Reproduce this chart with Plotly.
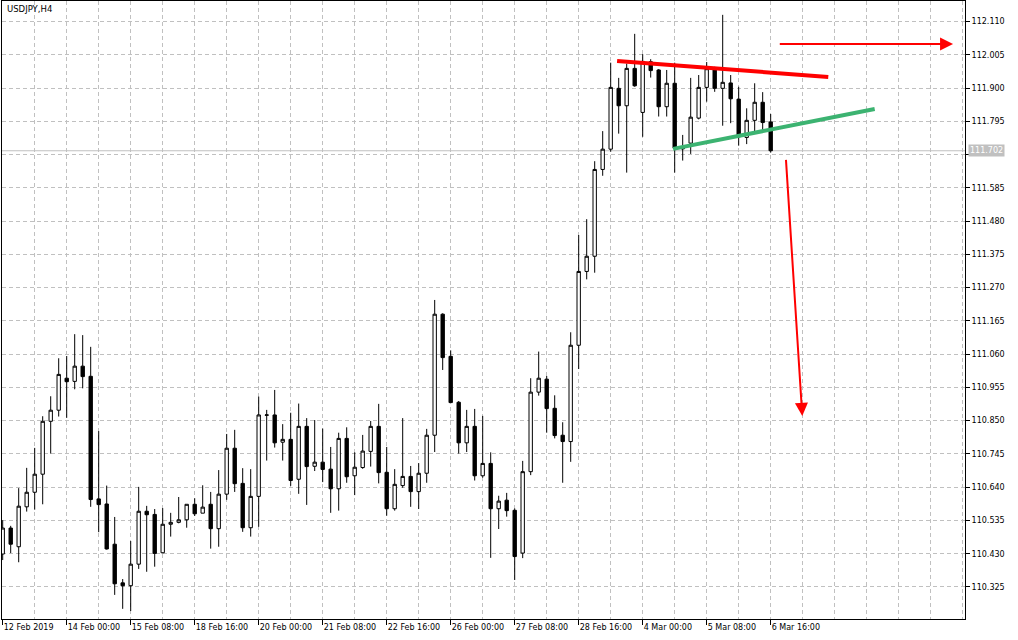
import plotly.graph_objects as go

# ---------------- data (USDJPY, H4 bars) ----------------
opens = [110.429, 110.511, 110.452, 110.578, 110.624, 110.681, 110.848, 110.883, 110.984, 110.974,
         111.022, 110.990, 110.603, 110.587, 110.460, 110.338, 110.329, 110.397, 110.564, 110.554,
         110.433, 110.523, 110.529, 110.537, 110.586, 110.558, 110.586, 110.509, 110.618, 110.763,
         110.652, 110.512, 110.611, 110.867, 110.868, 110.782, 110.791, 110.665, 110.832, 110.706,
         110.719, 110.697, 110.635, 110.794, 110.676, 110.702, 110.753, 110.832, 110.687, 110.572,
         110.645, 110.674, 110.626, 110.684, 110.804, 111.186, 111.053, 110.908, 110.780, 110.832,
         110.676, 110.715, 110.572, 110.599, 110.567, 110.432, 110.689, 110.940, 110.981, 110.889,
         110.804, 110.784, 111.088, 111.321, 111.369, 111.643, 111.707, 111.899, 111.844, 111.962,
         111.823, 111.983, 111.957, 111.841, 111.915, 111.708, 111.726, 111.805, 111.902, 111.961,
         111.899, 111.916, 111.865, 111.744, 111.798, 111.855, 111.793]
highs = [110.536, 110.518, 110.637, 110.701, 110.764, 110.864, 110.927, 111.047, 111.054, 111.123,
         111.120, 111.083, 110.817, 110.645, 110.546, 110.350, 110.470, 110.641, 110.581, 110.571,
         110.574, 110.559, 110.609, 110.586, 110.605, 110.646, 110.625, 110.694, 110.808, 110.821,
         110.700, 110.697, 110.926, 110.884, 110.947, 110.839, 110.875, 110.904, 110.858, 110.852,
         110.825, 110.767, 110.812, 110.829, 110.750, 110.805, 110.849, 110.903, 110.767, 110.697,
         110.858, 110.707, 110.716, 110.824, 111.231, 111.189, 111.072, 110.912, 110.884, 110.887,
         110.865, 110.750, 110.613, 110.622, 110.573, 110.723, 110.984, 111.068, 110.991, 110.930,
         110.845, 111.129, 111.436, 111.486, 111.669, 111.764, 111.980, 111.932, 111.977, 112.071,
         112.007, 111.991, 111.960, 111.957, 111.980, 111.752, 111.932, 111.941, 111.982, 111.967,
         112.131, 111.941, 111.904, 111.836, 111.915, 111.887, 111.818]
lows = [110.410, 110.432, 110.403, 110.563, 110.569, 110.586, 110.746, 110.863, 110.859, 110.949,
        110.952, 110.578, 110.498, 110.443, 110.300, 110.256, 110.249, 110.382, 110.373, 110.389,
        110.431, 110.484, 110.526, 110.512, 110.549, 110.558, 110.446, 110.452, 110.600, 110.625,
        110.499, 110.484, 110.515, 110.724, 110.765, 110.724, 110.644, 110.619, 110.584, 110.691,
        110.656, 110.559, 110.566, 110.654, 110.615, 110.698, 110.705, 110.652, 110.550, 110.566,
        110.638, 110.578, 110.571, 110.654, 110.751, 111.010, 110.907, 110.746, 110.751, 110.661,
        110.670, 110.417, 110.508, 110.547, 110.347, 110.416, 110.678, 110.929, 110.812, 110.794,
        110.654, 110.720, 111.013, 111.296, 111.317, 111.623, 111.699, 111.756, 111.633, 111.904,
        111.746, 111.933, 111.810, 111.810, 111.633, 111.671, 111.692, 111.801, 111.857, 111.888,
        111.781, 111.789, 111.718, 111.723, 111.764, 111.764, 111.696]
closes = [110.511, 110.460, 110.580, 110.624, 110.681, 110.848, 110.883, 110.996, 110.973, 111.022,
          110.989, 110.601, 110.585, 110.445, 110.335, 110.329, 110.397, 110.564, 110.553, 110.431,
          110.523, 110.529, 110.537, 110.586, 110.556, 110.577, 110.509, 110.618, 110.763, 110.651,
          110.512, 110.611, 110.868, 110.868, 110.780, 110.791, 110.661, 110.832, 110.705, 110.719,
          110.696, 110.635, 110.794, 110.673, 110.703, 110.754, 110.832, 110.686, 110.572, 110.649,
          110.674, 110.626, 110.684, 110.804, 111.186, 111.049, 110.907, 110.780, 110.832, 110.676,
          110.715, 110.572, 110.596, 110.566, 110.421, 110.689, 110.940, 110.984, 110.888, 110.803,
          110.784, 111.088, 111.321, 111.369, 111.643, 111.707, 111.902, 111.844, 111.962, 111.907,
          111.984, 111.955, 111.841, 111.915, 111.710, 111.712, 111.808, 111.902, 111.961, 111.899,
          111.918, 111.866, 111.746, 111.798, 111.855, 111.791, 111.702]

x_tick_bars = [0, 8, 16, 24, 32, 40, 48, 56, 64, 72, 80, 88, 96]
x_tick_labels = ["12 Feb 2019", "14 Feb 00:00", "15 Feb 08:00", "18 Feb 16:00", "20 Feb 00:00",
                 "21 Feb 08:00", "22 Feb 16:00", "26 Feb 00:00", "27 Feb 08:00", "28 Feb 16:00",
                 "4 Mar 00:00", "5 Mar 08:00", "6 Mar 16:00"]
y_ticks = [110.325, 110.430, 110.535, 110.640, 110.745, 110.850, 110.955, 111.060, 111.165,
           111.270, 111.375, 111.480, 111.585, 111.690, 111.795, 111.900, 112.005, 112.110]
last_price = 111.702
symbol_title = "USDJPY,H4"

# drawn objects (bar index, price)
red_line = [(76.8, 111.985), (103.2, 111.935)]
green_line = [(83.8, 111.708), (109.0, 111.834)]
arrow_right = [(96.95, 112.039), (118.8, 112.039)]
arrow_down = [(97.9, 111.678), (99.95, 110.865)]

FONT = "DejaVu Sans"
GRID = "#c0c0c0"

# the bid-price label covers the tick label nearest to it (as in the terminal)
y_tick_text = ["" if abs(v - last_price) < 0.03 else f"{v:.3f}" for v in y_ticks]

fig = go.Figure(go.Candlestick(
    x=list(range(len(opens))), open=opens, high=highs, low=lows, close=closes,
    increasing=dict(line=dict(color="black", width=1), fillcolor="white"),
    decreasing=dict(line=dict(color="black", width=1), fillcolor="black"),
    whiskerwidth=0, showlegend=False, hoverinfo="skip"))

fig.update_layout(
    width=1018, height=640,
    margin=dict(l=2, r=53, t=1, b=21, pad=0),
    paper_bgcolor="white", plot_bgcolor="white",
    boxgap=0.4,
    font=dict(family=FONT, size=8, color="black"),
    xaxis=dict(
        range=[-0.0875, 120.29], rangeslider=dict(visible=False),
        tickvals=x_tick_bars, ticktext=x_tick_labels,
        ticks="outside", ticklen=5, tickcolor="black", tickwidth=1,
        ticklabelposition="outside right",
        showgrid=True, gridcolor=GRID, griddash="4px,3px", gridwidth=1,
        minor=dict(dtick=4, tick0=0, showgrid=True, gridcolor=GRID, griddash="4px,3px", ticks=""),
        showline=True, mirror=True, linecolor="black", linewidth=1,
        zeroline=False, tickfont=dict(family=FONT, size=8, color="black"),
    ),
    yaxis=dict(
        side="right", range=[110.2239, 112.1747],
        tickvals=y_ticks, ticktext=y_tick_text,
        ticks="outside", ticklen=4, tickcolor="black", tickwidth=1,
        showgrid=True, gridcolor=GRID, griddash="4px,3px", gridwidth=1,
        showline=True, mirror=True, linecolor="black", linewidth=1,
        zeroline=False, tickfont=dict(family=FONT, size=8, color="black"),
    ),
)

shapes = [
    dict(type="line", xref="paper", x0=0, x1=1, yref="y", y0=last_price, y1=last_price,
         line=dict(color=GRID, width=1), layer="below"),
    dict(type="line", xref="x", yref="y", x0=red_line[0][0], y0=red_line[0][1],
         x1=red_line[1][0], y1=red_line[1][1], line=dict(color="#ff0000", width=4)),
    dict(type="line", xref="x", yref="y", x0=green_line[0][0], y0=green_line[0][1],
         x1=green_line[1][0], y1=green_line[1][1], line=dict(color="#3cb371", width=4)),
]
fig.update_layout(shapes=shapes)

for (x0, y0), (x1, y1) in (arrow_right, arrow_down):
    fig.add_annotation(x=x1, y=y1, ax=x0, ay=y0, xref="x", yref="y", axref="x", ayref="y",
                       text="", showarrow=True, arrowhead=2, arrowsize=1.3, arrowwidth=2,
                       arrowcolor="#ff0000")

fig.add_annotation(text=symbol_title, xref="paper", yref="paper", x=0, y=1,
                   xanchor="left", yanchor="top", xshift=3, yshift=-1, showarrow=False,
                   font=dict(family=FONT, size=8.5, color="black"))
fig.add_annotation(text=f"{last_price:.3f}", xref="paper", yref="y", x=1, y=last_price,
                   xanchor="left", yanchor="middle", xshift=3, showarrow=False,
                   bgcolor=GRID, borderpad=1, font=dict(family=FONT, size=8, color="white"))

fig.write_html("out.html", config={"displayModeBar": False},
               post_script="document.body.style.margin='0';")
